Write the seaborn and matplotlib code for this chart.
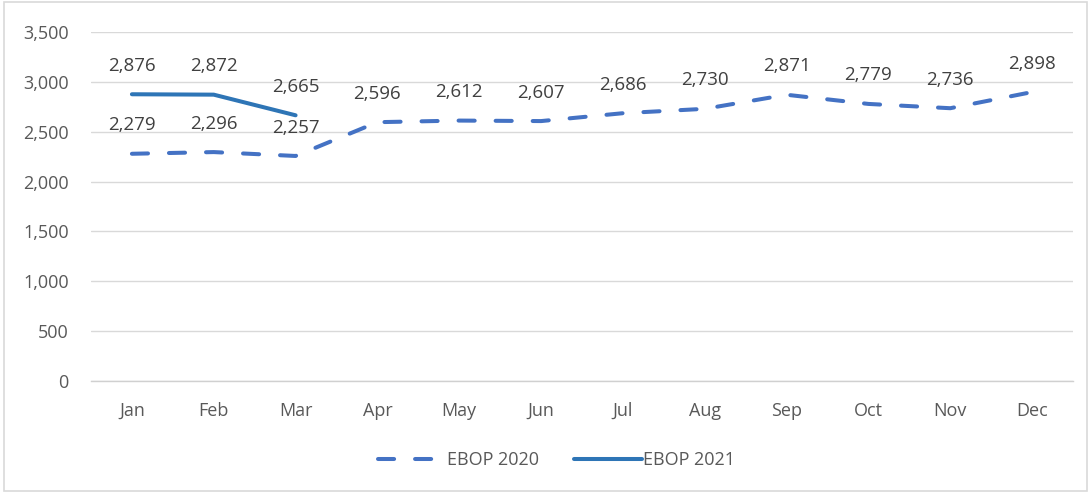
import pandas as pd
import seaborn as sns
import matplotlib.pyplot as plt
from matplotlib.patches import Rectangle

months = ['Jan', 'Feb', 'Mar', 'Apr', 'May', 'Jun', 'Jul', 'Aug', 'Sep', 'Oct', 'Nov', 'Dec']
ebop_2020 = [2279, 2296, 2257, 2596, 2612, 2607, 2686, 2730, 2871, 2779, 2736, 2898]
ebop_2021 = [2876, 2872, 2665]

sns.set_theme(style='white')
plt.rcParams['font.family'] = ['Open Sans', 'DejaVu Sans']

data = pd.concat([
    pd.DataFrame({'month': months, 'value': ebop_2020, 'series': 'EBOP 2020'}),
    pd.DataFrame({'month': months[:len(ebop_2021)], 'value': ebop_2021, 'series': 'EBOP 2021'}),
])
data['pos'] = data['month'].map({m: i for i, m in enumerate(months)})

fig = plt.figure(figsize=(10.91, 4.93), dpi=100)
ax = fig.add_axes([0.0834, 0.2272, 0.9001, 0.7078])

lw = 2.9
dash = (4.0, 5.2)
palette = {'EBOP 2020': '#4472C4', 'EBOP 2021': '#2E75B6'}
sns.lineplot(data=data, x='pos', y='value', hue='series', style='series',
             palette=palette, dashes={'EBOP 2020': dash, 'EBOP 2021': ''},
             linewidth=lw, ax=ax, legend=False)
for line in ax.get_lines():
    line.set_solid_capstyle('round')
    line.set_dash_capstyle('round')

# data labels above each point
for _, row in data.iterrows():
    ax.annotate(f"{row['value']:,}", (row['pos'], row['value']),
                xytext=(0, 14), textcoords='offset points',
                ha='center', va='bottom', fontsize=13.5, color='#404040')

ax.set_xlim(-0.5, len(months) - 0.5)
ax.set_ylim(0, 3500)
ax.set_yticks(range(0, 3501, 500))
ax.set_yticklabels([f'{v:,}' for v in range(0, 3501, 500)])
ax.set_xticks(range(len(months)))
ax.set_xticklabels(months)
ax.set_xticks([i - 0.5 for i in range(len(months) + 1)], minor=True)
ax.tick_params(axis='x', which='major', length=0, pad=15, labelsize=13, labelcolor='#595959')
ax.tick_params(axis='x', which='minor', length=5, width=1, color='#d0d0d0', direction='out')
ax.tick_params(axis='y', length=0, pad=16, labelsize=13, labelcolor='#595959')
ax.set_xlabel('')
ax.set_ylabel('')
ax.yaxis.grid(True, color='#d9d9d9', linewidth=1)
ax.set_axisbelow(True)
for side in ['top', 'right', 'left']:
    ax.spines[side].set_visible(False)
ax.spines['bottom'].set_color('#d0d0d0')
ax.spines['bottom'].set_linewidth(1)

# legend
handles = [
    plt.Line2D([], [], color='#4472C4', linewidth=lw, dashes=dash, dash_capstyle='round'),
    plt.Line2D([], [], color='#2E75B6', linewidth=lw, solid_capstyle='round'),
]
fig.legend(handles, ['EBOP 2020', 'EBOP 2021'], loc='center', bbox_to_anchor=(0.51, 0.066),
           ncol=2, frameon=False, fontsize=13, handlelength=3.8, columnspacing=1.9,
           handletextpad=0.05, labelcolor='#595959')

# chart border
fig.patches.append(Rectangle((0.004, 0.004), 0.992, 0.992, transform=fig.transFigure,
                             fill=False, edgecolor='#d9d9d9', linewidth=1.2))

fig.savefig('out.png', dpi=100)
